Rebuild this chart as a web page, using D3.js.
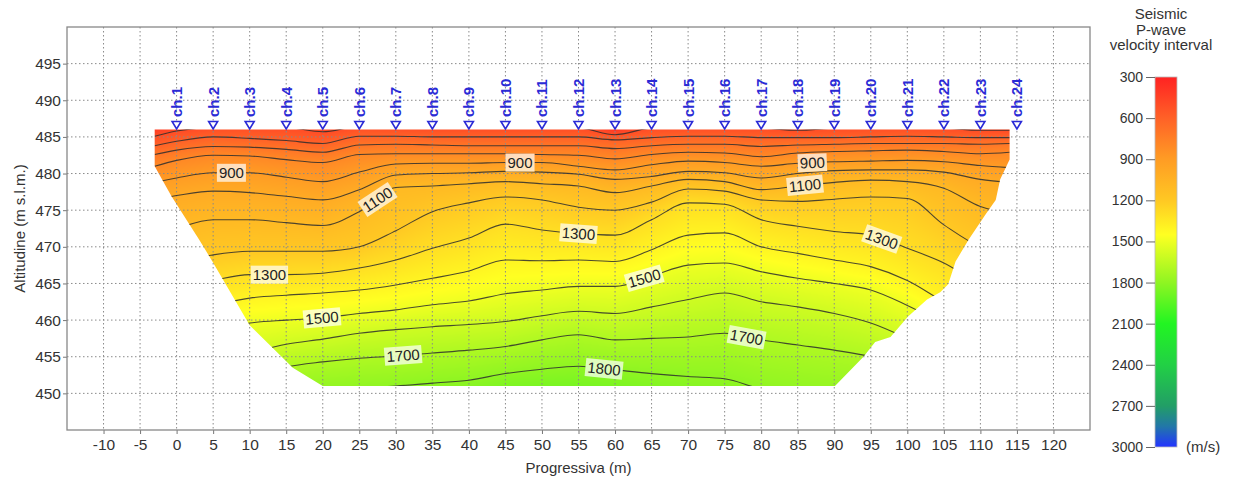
<!DOCTYPE html>
<html>
<head>
<meta charset="utf-8">
<script src="https://cdn.jsdelivr.net/npm/d3@7"></script>
<style>
  body { margin: 0; background: #fff; }
  text { font-family: "Liberation Sans", Arial, sans-serif; }
</style>
</head>
<body>
<svg id="chart" width="1234" height="482"></svg>
<script>
// ---- data read off the section ----
// station positions (m) where the isoline altitudes were read
var stations = [-3, 0, 5, 10, 15, 20, 25, 30, 35, 40, 45, 50, 55, 60, 65, 70, 75, 80, 85, 90, 95, 100, 105, 110, 114];

// altitude (m s.l.m.) of each velocity isoline at every station
var alt500  = [485.1, 485.8, 486.3, 486.4, 486.3, 485.7, 486.4, 486.3, 486.2, 486.2, 486.2, 486.2, 486.2, 485.3, 486.2, 486.3, 486.3, 486.2, 485.9, 486.2, 486.3, 486.3, 486.2, 485.9, 485.9];
var alt600  = [483.8, 484.4, 485.0, 484.8, 484.5, 484.1, 485.1, 485.1, 485.0, 485.0, 485.0, 485.0, 485.0, 484.6, 484.9, 485.1, 485.1, 484.9, 484.9, 484.9, 485.0, 485.1, 485.0, 484.9, 484.9];
var alt700  = [482.6, 483.2, 483.7, 483.6, 483.3, 482.9, 483.9, 484.0, 483.9, 483.8, 483.8, 483.8, 483.8, 483.4, 483.8, 484.0, 484.0, 483.7, 483.9, 484.0, 484.1, 484.1, 484.1, 484.0, 484.1];
var alt800  = [481.0, 481.8, 482.5, 482.4, 481.9, 481.5, 482.6, 482.7, 482.7, 482.7, 482.7, 482.6, 482.5, 482.0, 482.6, 482.9, 482.8, 482.3, 482.8, 483.0, 483.1, 483.2, 483.0, 482.7, 482.9];
var alt900  = [478.8, 479.4, 480.1, 480.1, 479.5, 478.9, 480.2, 481.3, 481.4, 481.4, 481.5, 481.5, 481.0, 480.5, 481.2, 481.7, 481.5, 481.0, 481.4, 481.6, 481.7, 481.8, 481.6, 481.1, 480.8];
var alt1000 = [476.5, 477.0, 477.6, 477.4, 476.9, 476.4, 477.8, 479.8, 480.0, 480.1, 480.3, 480.2, 479.9, 479.2, 479.6, 480.3, 480.1, 479.4, 480.0, 480.4, 480.5, 480.5, 480.2, 479.2, 478.8];
var alt1100 = [471.5, 472.5, 473.7, 473.7, 473.3, 472.9, 474.8, 478.1, 478.3, 478.6, 478.9, 478.6, 478.3, 477.4, 478.3, 479.2, 478.9, 477.8, 478.3, 478.8, 479.1, 478.9, 478.0, 475.5, 474.5];
var alt1200 = [466.5, 467.8, 468.9, 469.4, 469.4, 469.4, 470.0, 472.2, 474.8, 476.0, 476.8, 476.4, 475.4, 475.0, 476.1, 477.9, 477.6, 476.4, 476.2, 476.5, 476.8, 476.6, 473.0, 470.0, 469.0];
var alt1300 = [463.0, 464.3, 465.4, 466.2, 466.2, 466.4, 467.1, 468.2, 469.8, 471.2, 473.1, 472.3, 471.8, 471.6, 473.7, 476.0, 475.8, 473.7, 472.8, 472.1, 471.6, 469.8, 467.8, 465.0, 464.0];
var alt1400 = [460.0, 461.0, 462.0, 463.0, 463.4, 463.7, 464.1, 464.8, 465.7, 466.7, 468.2, 468.1, 468.2, 468.0, 469.6, 471.6, 471.9, 470.0, 469.1, 468.2, 467.3, 465.4, 462.5, 460.0, 459.0];
var alt1500 = [456.5, 457.5, 458.5, 459.6, 460.0, 460.3, 460.9, 461.4, 462.1, 462.6, 463.6, 464.1, 464.6, 464.6, 466.0, 467.5, 467.8, 466.6, 465.7, 465.0, 464.1, 462.0, 459.5, 457.0, 456.0];
var alt1600 = [452.0, 453.0, 454.2, 455.5, 456.7, 457.4, 458.2, 458.7, 459.1, 459.4, 459.8, 460.6, 461.2, 460.9, 461.8, 462.8, 463.7, 462.5, 461.8, 460.9, 459.6, 457.5, 455.0, 453.0, 452.0];
var alt1700 = [448.5, 449.5, 450.8, 452.2, 453.6, 454.3, 454.8, 455.1, 455.5, 455.9, 456.4, 457.3, 458.0, 457.3, 457.5, 457.7, 458.2, 457.3, 456.6, 455.9, 455.0, 453.5, 451.5, 450.0, 449.0];
var alt1800 = [445.0, 446.0, 447.0, 448.2, 449.5, 450.3, 450.7, 451.0, 451.4, 451.8, 452.7, 453.3, 453.7, 453.2, 452.7, 452.3, 452.0, 450.6, 450.0, 449.5, 449.0, 448.5, 447.5, 446.5, 446.0];

var levels = [500, 600, 700, 800, 900, 1000, 1100, 1200, 1300, 1400, 1500, 1600, 1700, 1800];

// outline of the inverted section
var outlineX   = [-3, 114, 114, 112.7, 112.1, 110.7, 108.4, 106.6, 105.6, 104.5, 102.7, 100.1, 97.7, 95.6, 94, 90.1, 20, 15.9, 10, 7, 4.9, 3.2, -0.7, -3];
var outlineAlt = [486, 486, 481.9, 479.2, 476.4, 474.4, 471, 468, 464.9, 463.8, 462.8, 460.5, 457.7, 457.0, 455, 451, 451, 453.5, 459.3, 464.4, 468, 470.8, 476.9, 481];

// contour labels: level and position along the profile
var labelLevel = [900, 900, 900, 1100, 1100, 1300, 1300, 1300, 1500, 1500, 1700, 1700, 1800];
var labelX     = [7.5, 47, 87, 27.5, 86, 12.7, 55, 96.5, 19.9, 64, 31, 78, 58.5];

// geophones
var channels = d3.range(1, 25);
var channelX = channels.map(function(c) { return (c - 1) * 5; });

// colour scale of the legend
var stopValues = [300, 600, 900, 1200, 1450, 1500, 1800, 2100, 2400, 2700, 2850, 3000];
var stopColors = ["#ff2222", "#ff6127", "#ff9c24", "#ffc823", "#ffff22", "#eeff22", "#8ff522", "#22f522", "#22d045", "#229e66", "#2277a8", "#2233ff"];
var legendTicks = [300, 600, 900, 1200, 1500, 1800, 2100, 2400, 2700, 3000];

var xTicks = d3.range(-10, 121, 5);
var yTicks = d3.range(450, 496, 5);

// ---- setup ----
var svg = d3.select("#chart");
var pLeft = 67, pRight = 1090, pTop = 27, pBottom = 430;
var plain = function(d) { return String(d); };

var x = d3.scaleLinear().domain([-15, 125]).range([pLeft, pRight]);
var y = d3.scaleLinear().domain([445, 500]).range([pBottom, pTop]);
var color = d3.scaleLinear().domain(stopValues).range(stopColors).interpolate(d3.interpolateRgb).clamp(true);

var isoTable = [alt500, alt600, alt700, alt800, alt900, alt1000, alt1100, alt1200, alt1300, alt1400, alt1500, alt1600, alt1700, alt1800]
  .map(function(a, i) { return {level: levels[i], alts: a}; });

function altAt(alts, xv) {
  var i = d3.bisectRight(stations, xv) - 1;
  i = Math.max(0, Math.min(stations.length - 2, i));
  var t = (xv - stations[i]) / (stations[i + 1] - stations[i]);
  t = Math.max(0, Math.min(1, t));
  return alts[i] + t * (alts[i + 1] - alts[i]);
}

function velAt(col, av) {
  var n = col.length;
  if (av >= col[0]) return Math.max(300, levels[0] - (av - col[0]) * 100 / (col[0] - col[1]));
  if (av <= col[n - 1]) return Math.min(3000, levels[n - 1] + (col[n - 1] - av) * 100 / (col[n - 2] - col[n - 1]));
  for (var k = 0; k < n - 1; k++) {
    if (av <= col[k] && av > col[k + 1]) return levels[k] + (col[k] - av) / (col[k] - col[k + 1]) * 100;
  }
  return levels[n - 1];
}

var defs = svg.append("defs");

var outline = d3.line()
  .x(function(d, i) { return x(outlineX[i]); })
  .y(function(d, i) { return y(outlineAlt[i]); });

defs.append("clipPath").attr("id", "sectionClip")
  .append("path").attr("d", outline(outlineX) + "Z");

// ---- velocity field ----
var W = pRight - pLeft, H = pBottom - pTop;
var canvas = document.createElement("canvas");
canvas.width = W; canvas.height = H;
var ctx = canvas.getContext("2d");
var img = ctx.createImageData(W, H);
var lut = d3.range(0, 2701).map(function(i) { return d3.rgb(color(300 + i)); });

for (var px = 0; px < W; px++) {
  var xv = x.invert(pLeft + px + 0.5);
  if (xv < -3.6 || xv > 114.6) continue;
  var col = isoTable.map(function(r) { return altAt(r.alts, xv); });
  for (var py = 0; py < H; py++) {
    var av = y.invert(pTop + py + 0.5);
    if (av > 486.6 || av < 450.4) continue;
    var v = velAt(col, av);
    var c = lut[Math.round(v - 300)];
    var o = (py * W + px) * 4;
    img.data[o] = c.r; img.data[o + 1] = c.g; img.data[o + 2] = c.b; img.data[o + 3] = 255;
  }
}
ctx.putImageData(img, 0, 0);

svg.append("image")
  .attr("x", pLeft).attr("y", pTop)
  .attr("width", W).attr("height", H)
  .attr("href", canvas.toDataURL())
  .attr("clip-path", "url(#sectionClip)");

// ---- grid ----
var grid = svg.append("g")
  .attr("stroke", "#8a8a8a")
  .attr("stroke-width", 1)
  .attr("stroke-dasharray", "1.5,2.5");

grid.selectAll(".gx").data(xTicks).enter().append("line")
  .attr("x1", function(d) { return x(d); }).attr("x2", function(d) { return x(d); })
  .attr("y1", pTop).attr("y2", pBottom);

grid.selectAll(".gy").data(yTicks).enter().append("line")
  .attr("y1", function(d) { return y(d); }).attr("y2", function(d) { return y(d); })
  .attr("x1", pLeft).attr("x2", pRight);

// ---- contour labels (positions + angles from the isolines) ----
var labels = labelLevel.map(function(lv, i) {
  var alts = isoTable[levels.indexOf(lv)].alts;
  var xa = labelX[i];
  var x1 = x(xa - 1.5), x2 = x(xa + 1.5);
  var y1 = y(altAt(alts, xa - 1.5)), y2 = y(altAt(alts, xa + 1.5));
  return {
    text: String(lv),
    cx: x(xa),
    cy: y(altAt(alts, xa)),
    angle: Math.atan2(y2 - y1, x2 - x1) * 180 / Math.PI
  };
});

// measure label widths
var probe = svg.append("text").style("font-size", "15px");
labels.forEach(function(l) { probe.text(l.text); l.w = probe.node().getComputedTextLength() + 4; });
probe.remove();

var mask = defs.append("mask").attr("id", "labelMask").attr("maskUnits", "userSpaceOnUse")
  .attr("x", 0).attr("y", 0).attr("width", 1234).attr("height", 482);
mask.append("rect").attr("width", 1234).attr("height", 482).attr("fill", "#fff");
mask.selectAll(".m").data(labels).enter().append("rect")
  .attr("transform", function(d) { return "translate(" + d.cx + "," + d.cy + ") rotate(" + d.angle + ")"; })
  .attr("x", function(d) { return -d.w / 2; }).attr("y", -9)
  .attr("width", function(d) { return d.w; }).attr("height", 18)
  .attr("fill", "#000");

// ---- contour lines ----
var iso = d3.line()
  .x(function(d, i) { return x(stations[i]); })
  .y(function(d) { return y(d); })
  .curve(d3.curveMonotoneX);

svg.append("g").attr("clip-path", "url(#sectionClip)")
  .append("g").attr("mask", "url(#labelMask)")
  .selectAll("path").data(isoTable).enter().append("path")
  .attr("d", function(d) { return iso(d.alts); })
  .attr("fill", "none")
  .attr("stroke", "#2e2e2e")
  .attr("stroke-opacity", 0.85)
  .attr("stroke-width", 1.1);

var lab = svg.append("g").selectAll("g").data(labels).enter().append("g")
  .attr("transform", function(d) { return "translate(" + d.cx + "," + d.cy + ") rotate(" + d.angle + ")"; });
lab.append("rect")
  .attr("x", function(d) { return -d.w / 2; }).attr("y", -9)
  .attr("width", function(d) { return d.w; }).attr("height", 18)
  .attr("fill", "#fff").attr("fill-opacity", 0.7);
lab.append("text")
  .attr("text-anchor", "middle").attr("dy", "0.36em")
  .style("font-size", "15px").attr("fill", "#222")
  .text(function(d) { return d.text; });

// ---- geophones ----
var ch = svg.append("g").selectAll("g").data(channels).enter().append("g")
  .attr("transform", function(d, i) { return "translate(" + x(channelX[i]) + ",0)"; });
ch.append("path")
  .attr("d", "M-4.5,121.5L4.5,121.5L0,129Z")
  .attr("fill", "#fff").attr("stroke", "#2a2ad6").attr("stroke-width", 1.6);
ch.append("text")
  .attr("transform", "translate(5.5,117) rotate(-90)")
  .style("font-size", "15px").style("font-weight", "bold")
  .attr("fill", "#2a2ad6")
  .text(function(d) { return "ch." + d; });

// ---- axes ----
var yAxis = svg.append("g").attr("transform", "translate(" + pLeft + ",0)")
  .call(d3.axisLeft(y).tickValues(yTicks).tickFormat(plain).tickSize(4).tickPadding(2));
var xAxis = svg.append("g").attr("transform", "translate(0," + pBottom + ")")
  .call(d3.axisBottom(x).tickValues(xTicks).tickFormat(plain).tickSize(4).tickPadding(5));
[yAxis, xAxis].forEach(function(a) {
  a.select(".domain").remove();
  a.selectAll("line").attr("stroke", "#777");
  a.selectAll("text").style("font-size", "15.5px").attr("fill", "#333")
    .style("font-family", '"Liberation Sans", Arial, sans-serif');
});

svg.append("rect")
  .attr("x", pLeft).attr("y", pTop).attr("width", W).attr("height", H)
  .attr("fill", "none").attr("stroke", "#888").attr("stroke-width", 1.3);

svg.append("text")
  .attr("transform", "translate(25," + (pTop + pBottom) / 2 + ") rotate(-90)")
  .attr("text-anchor", "middle").style("font-size", "15px").attr("fill", "#333")
  .text("Altitudine (m s.l.m.)");

svg.append("text")
  .attr("x", (pLeft + pRight) / 2).attr("y", 473)
  .attr("text-anchor", "middle").style("font-size", "15px").attr("fill", "#333")
  .text("Progressiva (m)");

// ---- colour legend ----
var cbTop = 77, cbBottom = 447, cbX = 1155, cbW = 22;
var cb = d3.scaleLinear().domain([300, 3000]).range([cbTop, cbBottom]);

var grad = defs.append("linearGradient").attr("id", "velGrad")
  .attr("x1", 0).attr("y1", 0).attr("x2", 0).attr("y2", 1);
grad.selectAll("stop").data(stopValues).enter().append("stop")
  .attr("offset", function(d) { return (d - 300) / 2700; })
  .attr("stop-color", function(d, i) { return stopColors[i]; });

svg.append("rect")
  .attr("x", cbX).attr("y", cbTop).attr("width", cbW).attr("height", cbBottom - cbTop)
  .attr("fill", "url(#velGrad)").attr("stroke", "#bbb").attr("stroke-width", 0.8);

var cbAxis = svg.append("g").attr("transform", "translate(" + cbX + ",0)")
  .call(d3.axisLeft(cb).tickValues(legendTicks).tickFormat(plain).tickSize(9).tickPadding(3));
cbAxis.select(".domain").remove();
cbAxis.selectAll("line").attr("stroke", "#666");
cbAxis.selectAll("text").style("font-size", "14px").attr("fill", "#333")
  .style("font-family", '"Liberation Sans", Arial, sans-serif');

svg.append("text").attr("x", 1186).attr("y", 452)
  .style("font-size", "15px").attr("fill", "#333").text("(m/s)");

var title = ["Seismic", "P-wave", "velocity interval"];
svg.append("g").selectAll("text").data(title).enter().append("text")
  .attr("x", 1161).attr("y", function(d, i) { return 19 + i * 15.5; })
  .attr("text-anchor", "middle").style("font-size", "15px").attr("fill", "#333")
  .text(function(d) { return d; });
</script>
</body>
</html>
